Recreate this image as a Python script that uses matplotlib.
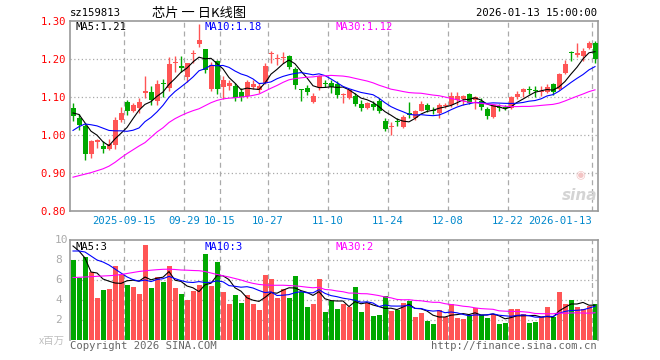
import numpy as np
import pandas as pd
import matplotlib
matplotlib.use("Agg")
import matplotlib.pyplot as plt

# daily candles, 2025-09-02 .. 2026-01-13 (88 trading days)
opens = [1.071, 1.045, 1.023, 0.950, 0.982, 0.972, 0.964, 0.975, 1.040, 1.087,
         1.064, 1.071, 1.110, 1.113, 1.090, 1.138, 1.124, 1.189, 1.182, 1.152,
         1.212, 1.239, 1.226, 1.120, 1.196, 1.126, 1.129, 1.129, 1.114, 1.103,
         1.126, 1.118, 1.138, 1.213, 1.201, 1.203, 1.208, 1.173, 1.121, 1.123,
         1.088, 1.126, 1.137, 1.138, 1.134, 1.106, 1.097, 1.102, 1.082, 1.071,
         1.082, 1.090, 1.038, 1.022, 1.035, 1.020, 1.058, 1.045, 1.064, 1.078,
         1.065, 1.058, 1.077, 1.078, 1.093, 1.094, 1.108, 1.093, 1.089, 1.068,
         1.047, 1.074, 1.074, 1.071, 1.099, 1.113, 1.120, 1.118, 1.114, 1.113,
         1.134, 1.122, 1.163, 1.217, 1.210, 1.207, 1.229, 1.242]
highs = [1.085, 1.055, 1.030, 0.988, 0.990, 0.983, 0.989, 1.047, 1.073, 1.093,
         1.084, 1.097, 1.154, 1.128, 1.146, 1.147, 1.205, 1.208, 1.207, 1.190,
         1.224, 1.292, 1.227, 1.193, 1.198, 1.155, 1.145, 1.136, 1.125, 1.145,
         1.145, 1.136, 1.190, 1.222, 1.214, 1.218, 1.210, 1.180, 1.122, 1.131,
         1.110, 1.158, 1.146, 1.146, 1.143, 1.110, 1.122, 1.110, 1.093, 1.088,
         1.090, 1.097, 1.046, 1.034, 1.045, 1.053, 1.087, 1.066, 1.089, 1.084,
         1.073, 1.084, 1.084, 1.113, 1.113, 1.106, 1.110, 1.102, 1.097, 1.075,
         1.082, 1.082, 1.080, 1.102, 1.116, 1.125, 1.128, 1.128, 1.128, 1.134,
         1.137, 1.163, 1.197, 1.222, 1.242, 1.228, 1.248, 1.248]
lows = [1.036, 1.014, 0.935, 0.940, 0.966, 0.953, 0.960, 0.963, 1.035, 1.053,
        1.060, 1.058, 1.097, 1.080, 1.080, 1.100, 1.115, 1.166, 1.165, 1.140,
        1.190, 1.232, 1.162, 1.117, 1.108, 1.094, 1.118, 1.089, 1.089, 1.098,
        1.120, 1.110, 1.135, 1.189, 1.184, 1.189, 1.175, 1.120, 1.090, 1.105,
        1.084, 1.118, 1.126, 1.110, 1.097, 1.084, 1.094, 1.076, 1.064, 1.068,
        1.066, 1.058, 1.011, 0.999, 1.023, 1.018, 1.044, 1.040, 1.062, 1.060,
        1.054, 1.045, 1.070, 1.075, 1.078, 1.078, 1.082, 1.068, 1.067, 1.043,
        1.045, 1.064, 1.066, 1.068, 1.096, 1.099, 1.108, 1.099, 1.102, 1.110,
        1.104, 1.118, 1.160, 1.194, 1.205, 1.196, 1.226, 1.189]
closes = [1.050, 1.027, 0.950, 0.983, 0.988, 0.962, 0.976, 1.040, 1.057, 1.064,
          1.078, 1.087, 1.117, 1.093, 1.134, 1.135, 1.187, 1.193, 1.177, 1.189,
          1.215, 1.250, 1.171, 1.184, 1.120, 1.145, 1.136, 1.097, 1.099, 1.140,
          1.134, 1.129, 1.182, 1.216, 1.203, 1.206, 1.180, 1.132, 1.119, 1.114,
          1.103, 1.155, 1.135, 1.127, 1.106, 1.108, 1.119, 1.082, 1.071, 1.084,
          1.073, 1.062, 1.017, 1.024, 1.033, 1.047, 1.052, 1.062, 1.082, 1.067,
          1.063, 1.078, 1.079, 1.102, 1.102, 1.102, 1.084, 1.099, 1.073, 1.049,
          1.078, 1.072, 1.072, 1.099, 1.108, 1.122, 1.118, 1.116, 1.117, 1.126,
          1.113, 1.161, 1.187, 1.215, 1.216, 1.222, 1.242, 1.201]
# volume in millions
volumes = [8.0, 6.2, 8.3, 6.8, 4.2, 5.0, 5.1, 7.4, 6.6, 5.5,
           5.3, 4.6, 9.5, 5.2, 6.3, 5.8, 7.4, 5.2, 4.6, 4.0,
           4.9, 5.5, 8.6, 5.4, 7.8, 4.8, 3.6, 4.5, 3.7, 4.5,
           3.6, 3.0, 6.5, 6.1, 4.2, 5.1, 4.2, 6.4, 4.8, 3.3,
           3.6, 6.1, 2.8, 3.9, 3.1, 3.6, 3.3, 5.3, 2.8, 3.7,
           2.4, 2.5, 4.4, 2.9, 3.0, 3.7, 3.9, 2.3, 2.7, 1.9,
           1.6, 3.0, 2.3, 3.6, 2.2, 2.1, 2.5, 3.2, 2.5, 2.2,
           2.6, 1.6, 1.7, 3.1, 3.1, 2.6, 1.7, 1.8, 2.3, 3.3,
           2.3, 4.8, 3.6, 4.0, 3.3, 3.1, 3.4, 3.6]

# moving-average values before enough history is on screen
ma5_head = [1.058, 1.054, 1.032, 1.010]
ma10_head = [1.012, 1.022, 1.029, 1.027, 1.024, 1.018, 1.012, 1.011, 1.011]
ma30_head = [0.889, 0.893, 0.897, 0.901, 0.906, 0.911, 0.918, 0.928, 0.940, 0.951,
             0.961, 0.971, 0.980, 0.994, 1.008, 1.019, 1.033, 1.043, 1.051, 1.058,
             1.064, 1.069, 1.077, 1.085, 1.091, 1.095, 1.097, 1.098, 1.100]
vma5_head = [9.4, 8.9, 8.2, 6.8]
vma10_head = [8.9, 8.9, 8.8, 8.4, 8.0, 7.8, 7.5, 7.1, 6.7]
vma30_head = [6.25, 6.27, 6.30, 6.33, 6.37, 6.40, 6.43, 6.47, 6.55, 6.65,
              6.75, 6.85, 6.92, 6.98, 7.03, 7.07, 7.08, 7.05, 7.00, 6.98,
              6.95, 6.93, 6.85, 6.70, 6.55, 6.42, 6.30, 6.15, 6.00]

tick_idx = [9, 19, 25, 33, 43, 53, 63, 73, 87]
tick_lbl = ["2025-09-15", "09-29", "10-15", "10-27", "11-10",
            "11-24", "12-08", "12-22", "2026-01-13"]
price_ticks = [0.80, 0.90, 1.00, 1.10, 1.20, 1.30]
vol_ticks = [2, 4, 6, 8, 10]


def moving(vals, n, head):
    out = pd.Series(vals).rolling(n).mean().to_numpy()
    out[:len(head)] = head
    return out


RED = "#ff5555"
GREEN = "#00a800"
GRID = "#aaaaaa"
MONO = "DejaVu Sans Mono"

o = np.array(opens); h = np.array(highs); l = np.array(lows); c = np.array(closes)
n = len(c)
x = np.arange(n) + 0.5
up = c >= o
cols = np.where(up, RED, GREEN)

fig = plt.figure(figsize=(6.6, 3.6), dpi=100)
L, W = 70 / 660, 528 / 660
ax1 = fig.add_axes([L, 149 / 360, W, 190 / 360])
ax2 = fig.add_axes([L, 20 / 360, W, 100 / 360])

for ax in (ax1, ax2):
    ax.set_xlim(0, n)
    for s in ax.spines.values():
        s.set_color("#999999")
        s.set_linewidth(1.2)
    for t in tick_idx:
        ax.axvline(t, color=GRID, lw=0.9, ls=(0, (4, 3)), zorder=0)
    ax.set_xticks([])

# --- price panel
ax1.set_ylim(0.80, 1.30)
for p in price_ticks[1:-1]:
    ax1.axhline(p, color=GRID, lw=0.9, ls=(0, (1, 2)), zorder=0)
body = np.maximum(np.abs(c - o), 0.0026)
ax1.vlines(x, l, h, colors=cols, lw=1.0, zorder=2)
ax1.bar(x, body, bottom=np.minimum(o, c), width=5 / 6, color=cols, zorder=3)
ax1.plot(x, moving(c, 5, ma5_head), color="black", lw=0.8, zorder=4)
ax1.plot(x, moving(c, 10, ma10_head), color="#0000ff", lw=0.8, zorder=4)
ax1.plot(x, moving(c, 30, ma30_head), color="#ff00ff", lw=0.8, zorder=4)
ax1.set_yticks(price_ticks)
ax1.set_yticklabels(["%.2f" % p for p in price_ticks], color="red",
                    fontfamily=MONO, fontsize=7.6)
ax1.tick_params(axis="y", length=0, pad=3)
for t, s in zip(tick_idx, tick_lbl):
    ha = "right" if s == tick_lbl[-1] else "center"
    ax1.text(t, -0.055, s, transform=ax1.get_xaxis_transform(), ha=ha, va="center",
             color="#0088cc", fontfamily=MONO, fontsize=7.6)
ax1.text(0.01, 0.97, "MA5:1.21", transform=ax1.transAxes, ha="left", va="center",
         color="black", fontfamily=MONO, fontsize=7.6)
ax1.text(0.254, 0.97, "MA10:1.18", transform=ax1.transAxes, ha="left", va="center",
         color="#0000ff", fontfamily=MONO, fontsize=7.6)
ax1.text(0.502, 0.97, "MA30:1.12", transform=ax1.transAxes, ha="left", va="center",
         color="#ff00ff", fontfamily=MONO, fontsize=7.6)

# --- volume panel
ax2.set_ylim(0, 10)
ax2.spines["bottom"].set_visible(False)
for v in vol_ticks[:-1]:
    ax2.axhline(v, color=GRID, lw=0.9, ls=(0, (1, 2)), zorder=0)
ax2.bar(x, volumes, width=5 / 6, color=cols, zorder=2)
ax2.plot(x, moving(volumes, 5, vma5_head), color="black", lw=0.8, zorder=4)
ax2.plot(x, moving(volumes, 10, vma10_head), color="#0000ff", lw=0.8, zorder=4)
ax2.plot(x, moving(volumes, 30, vma30_head), color="#ff00ff", lw=0.8, zorder=4)
ax2.set_yticks([])
for v in vol_ticks:
    ax2.text(-15 / 528, v, str(v), transform=ax2.get_yaxis_transform(), ha="left",
             va="center", color="#aaaaaa", fontfamily=MONO, fontsize=8)
ax2.text(0.01, 0.93, "MA5:3", transform=ax2.transAxes, ha="left", va="center",
         color="black", fontfamily=MONO, fontsize=7.6)
ax2.text(0.254, 0.93, "MA10:3", transform=ax2.transAxes, ha="left", va="center",
         color="#0000ff", fontfamily=MONO, fontsize=7.6)
ax2.text(0.502, 0.93, "MA30:2", transform=ax2.transAxes, ha="left", va="center",
         color="#ff00ff", fontfamily=MONO, fontsize=7.6)

# --- header / footer texts
fig.text(70 / 660, 1 - 13 / 360, "sz159813", ha="left", va="center",
         fontfamily=MONO, fontsize=7.6, color="black")
fig.text(199 / 660, 1 - 13 / 360, "芯片 一 日K线图", ha="center", va="center",
         family=["Noto Sans CJK SC", "DejaVu Sans"], fontsize=9.5, color="black")
fig.text(597 / 660, 1 - 13 / 360, "2026-01-13 15:00:00", ha="right", va="center",
         fontfamily=MONO, fontsize=7.6, color="black")
fig.text(70 / 660, 1 - 346 / 360, "Copyright 2026 SINA.COM", ha="left", va="center",
         fontfamily=MONO, fontsize=7.6, color="#666666")
fig.text(597 / 660, 1 - 346 / 360, "http://finance.sina.com.cn", ha="right",
         va="center", fontfamily=MONO, fontsize=7.6, color="#666666")
fig.text(65 / 660, 1 - 341 / 360, "x百万", ha="right", va="center",
         family=["Noto Sans CJK SC", "DejaVu Sans"], fontsize=7.5, color="#c0c0c0")
# faint sina watermark
fig.text(580 / 660, 1 - 196 / 360, "sina", ha="center", va="center", fontsize=11,
         fontweight="bold", style="italic", color="#d4d4d4")
fig.text(580 / 660, 1 - 175 / 360, "◉", ha="center", va="center", fontsize=8,
         color="#f3c4c4")

fig.savefig("out.png", dpi=100)
